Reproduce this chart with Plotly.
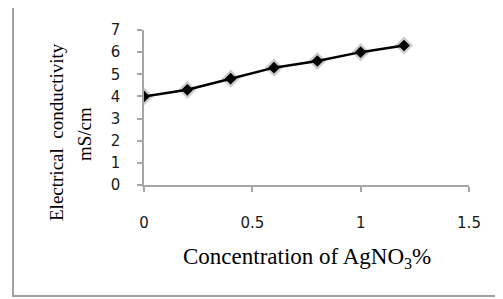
import plotly.graph_objects as go

concentration = [0, 0.2, 0.4, 0.6, 0.8, 1.0, 1.2]
conductivity = [4.0, 4.3, 4.8, 5.3, 5.6, 6.0, 6.3]
x_ticks = [0, 0.5, 1, 1.5]
x_tick_labels = ["0", "0.5", "1", "1.5"]
y_ticks = [0, 1, 2, 3, 4, 5, 6, 7]

OFF = 8  # page body margin
W, H = 503 - OFF, 299 - OFF
L, T = 144 - OFF, 30 - OFF
R = W - (469 - OFF)
B = H - (185 - OFF)
pw, ph = W - L - R, H - T - B

def px_to_paper_x(px):
    return (px - OFF - L) / pw

def px_to_paper_y(py):
    return (H - B - (py - OFF)) / ph

fig = go.Figure()
# soft shadow halo
fig.add_trace(go.Scatter(
    x=concentration, y=conductivity, mode="markers",
    marker=dict(symbol="diamond", size=14, color="rgba(0,0,0,0.2)", line=dict(width=0)),
    hoverinfo="skip", showlegend=False))
fig.add_trace(go.Scatter(
    x=concentration, y=conductivity, mode="lines+markers",
    line=dict(color="black", width=2.5),
    marker=dict(symbol="diamond", size=9, color="black"),
    showlegend=False))

axis_common = dict(
    showgrid=False, zeroline=False, showline=True, linecolor="#a6a6a6", linewidth=1.5,
    ticks="outside", ticklen=5, tickcolor="#a6a6a6", tickwidth=1.5, automargin=False,
    tickfont=dict(family="DejaVu Sans", size=15, color="#1a1a1a"),
)
fig.update_xaxes(range=[0, 1.5], tickvals=x_ticks, ticktext=x_tick_labels,
                 ticklabelstandoff=18, **axis_common)
fig.update_yaxes(range=[0, 7], tickvals=y_ticks, ticklabelstandoff=14, **axis_common)

fig.update_layout(
    width=W, height=H, margin=dict(l=L, r=R, t=T, b=B, autoexpand=False),
    paper_bgcolor="white", plot_bgcolor="white",
    shapes=[dict(type="rect", xref="paper", yref="paper",
                 x0=px_to_paper_x(13), x1=px_to_paper_x(520),
                 y0=px_to_paper_y(296), y1=px_to_paper_y(5),
                 line=dict(color="#a0a0a0", width=2), fillcolor="rgba(0,0,0,0)")],
    annotations=[
        dict(text="Concentration of AgNO<sub>3</sub>%", xref="paper", yref="paper",
             x=px_to_paper_x(307), y=px_to_paper_y(258), showarrow=False,
             xanchor="center", yanchor="middle",
             font=dict(family="Liberation Serif", size=23, color="black")),
        dict(text="Electrical  conductivity", xref="paper", yref="paper",
             x=px_to_paper_x(56), y=px_to_paper_y(132), showarrow=False, textangle=-90,
             xanchor="center", yanchor="middle",
             font=dict(family="Liberation Serif", size=19, color="black")),
        dict(text="mS/cm", xref="paper", yref="paper",
             x=px_to_paper_x(85), y=px_to_paper_y(134), showarrow=False, textangle=-90,
             xanchor="center", yanchor="middle",
             font=dict(family="Liberation Serif", size=19, color="black")),
    ],
)

fig.write_html("out.html")
